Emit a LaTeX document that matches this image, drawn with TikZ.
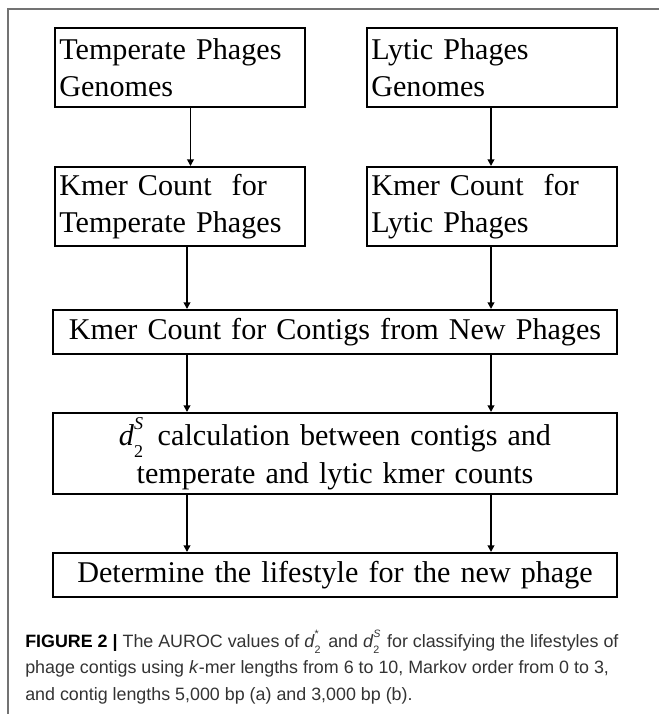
\documentclass[tikz,border=0pt]{standalone}
\usepackage{fontspec}
\usepackage{graphicx}
\setmainfont{Liberation Serif}
\newfontfamily\capfont{Liberation Sans}
\usetikzlibrary{arrows.meta}

% d_2 statistic built from text fonts
\newcommand{\dstat}[1]{\textit{d}\makebox[0pt][l]{\raisebox{0.55em}{\scalebox{0.6}{#1}}}\raisebox{-0.38em}{\scalebox{0.6}{2}}\hspace{0.15em}}

\tikzset{
  phbox/.style={draw, line width=1.5pt, inner xsep=3pt, inner ysep=0pt, anchor=north west,
    font=\fontsize{22.6}{27.8}\selectfont},
  smallbox/.style={phbox, minimum width=187.5pt, minimum height=59.25pt, text width=181pt, align=left},
  widebox/.style={phbox, minimum width=423pt, text width=417pt, align=center},
  flowarrow/.style={line width=1.35pt, -{Triangle[length=5pt,width=5pt]}},
  frameline/.style={draw=black!55, line width=0.9pt},
  capline/.style={anchor=base west, inner sep=0pt, text=black!80, font=\capfont\fontsize{13.4}{15}\selectfont}
}

\begin{document}
\begin{tikzpicture}[x=0.75pt,y=0.75pt,yscale=-1,xscale=1]
\useasboundingbox (0,0) rectangle (659,714);

%Straight Lines: frame
\draw[frameline] (8,714) -- (8,9) -- (659,9);

%Shape: boxes
\node[smallbox] (tg) at (54,27) {Temperate Phages\\Genomes};
\node[smallbox] (lg) at (366,27) {Lytic Phages\\Genomes};
\node[smallbox] (tk) at (54,166) {Kmer Count\ \ for\\Temperate Phages};
\node[smallbox] (lk) at (366,166) {Kmer Count\ \ for\\Lytic Phages};
\node[widebox, minimum height=33pt] (ck) at (52,309) {Kmer Count for Contigs from New Phages};
\node[widebox, minimum height=60.75pt] (dc) at (52,412) {\dstat{\textit{S}} calculation between contigs and\\temperate and lytic kmer counts};
\node[widebox, minimum height=33pt] (ls) at (52,552) {Determine the lifestyle for the new phage};

% arrow columns
\coordinate (la) at (190.5,0);
\coordinate (lb) at (187,0);
\coordinate (ra) at (491,0);

%Straight Lines: arrows
\draw[flowarrow] (tg.south -| la) -- (tk.north -| la);
\draw[flowarrow] (lg.south -| ra) -- (lk.north -| ra);
\draw[flowarrow] (tk.south -| lb) -- (ck.north -| lb);
\draw[flowarrow] (lk.south -| ra) -- (ck.north -| ra);
\draw[flowarrow] (ck.south -| lb) -- (dc.north -| lb);
\draw[flowarrow] (ck.south -| ra) -- (dc.north -| ra);
\draw[flowarrow] (dc.south -| lb) -- (ls.north -| lb);
\draw[flowarrow] (dc.south -| ra) -- (ls.north -| ra);

% Text Node: caption
\node[capline] (cap1) at (25,647) {\textcolor{black}{\textbf{FIGURE 2 |}} The AUROC values of \dstat{*} and \dstat{\textit{S}} for classifying the lifestyles of};
\node[capline] (cap2) at (25,673.5) {phage contigs using \textit{k}-mer lengths from 6 to 10, Markov order from 0 to 3,};
\node[capline] (cap3) at (25,700) {and contig lengths 5,000 bp (a) and 3,000 bp (b).};

\end{tikzpicture}
\end{document}
